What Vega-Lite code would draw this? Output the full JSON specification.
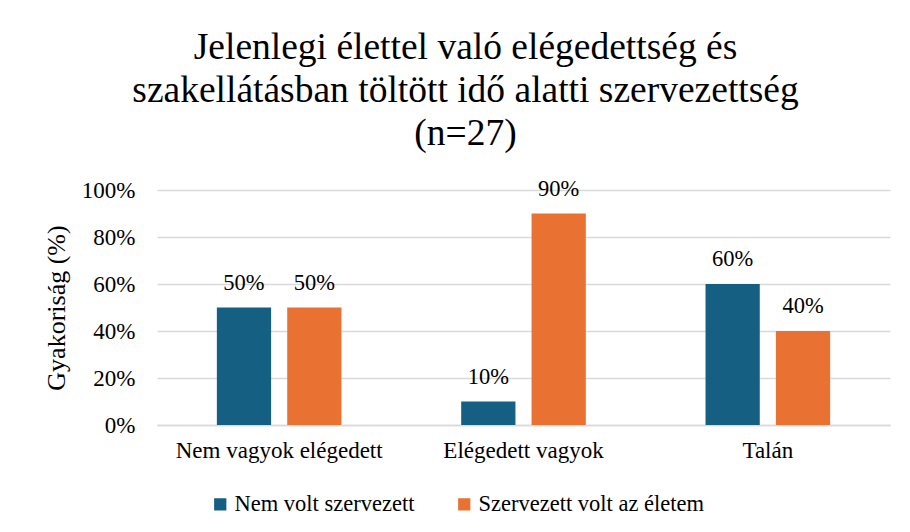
{
  "$schema": "https://vega.github.io/schema/vega-lite/v6.json",
  "autosize": {"type": "none"},
  "width": 733,
  "height": 235,
  "padding": {"left": 157, "top": 190, "right": 20, "bottom": 107},
  "background": "white",
  "config": {
    "font": "Times New Roman, Liberation Serif, serif",
    "view": {"stroke": null},
    "title": {"font": "Times New Roman, Liberation Serif, serif"}
  },
  "title": {
    "text": ["Jelenlegi élettel való elégedettség és", "szakellátásban töltött idő alatti szervezettség", "(n=27)"],
    "font": "Times New Roman, Liberation Serif, serif",
    "fontSize": 37.5,
    "fontWeight": "normal",
    "color": "#000000",
    "lineHeight": 43,
    "anchor": "middle",
    "dx": -58,
    "offset": 25
  },
  "data": {
    "values": [
      {"kat": "Nem vagyok elégedett", "sorozat": "Nem volt szervezett", "ertek": 0.5},
      {"kat": "Nem vagyok elégedett", "sorozat": "Szervezett volt az életem", "ertek": 0.5},
      {"kat": "Elégedett vagyok", "sorozat": "Nem volt szervezett", "ertek": 0.1},
      {"kat": "Elégedett vagyok", "sorozat": "Szervezett volt az életem", "ertek": 0.9},
      {"kat": "Talán", "sorozat": "Nem volt szervezett", "ertek": 0.6},
      {"kat": "Talán", "sorozat": "Szervezett volt az életem", "ertek": 0.4}
    ]
  },
  "encoding": {
    "x": {
      "field": "kat", "type": "nominal", "sort": null,
      "scale": {"paddingInner": 0.49, "paddingOuter": 0.245},
      "axis": {"title": null, "labelAngle": 0, "labelFontSize": 23, "labelColor": "#000000", "labelPadding": 14, "ticks": false, "domainColor": "#d9d9d9", "domainWidth": 1.5, "labelFont": "Times New Roman, Liberation Serif, serif", "labelLimit": 400}
    },
    "xOffset": {"field": "sorozat", "type": "nominal", "sort": null, "scale": {"paddingInner": 0.229, "paddingOuter": 0}},
    "y": {
      "field": "ertek", "type": "quantitative",
      "scale": {"domain": [0, 1]},
      "axis": {"title": "Gyakoriság (%)", "titleFontSize": 26, "titleFontWeight": "normal", "titleColor": "#000000", "titleFont": "Times New Roman, Liberation Serif, serif", "titlePadding": 12, "format": "%", "values": [0, 0.2, 0.4, 0.6, 0.8, 1], "labelOverlap": false, "labelFontSize": 23, "labelColor": "#000000", "labelPadding": 22, "ticks": false, "domain": false, "gridColor": "#d9d9d9", "gridWidth": 1.5, "labelFont": "Times New Roman, Liberation Serif, serif"}
    }
  },
  "layer": [
    {
      "mark": {"type": "bar"},
      "encoding": {
        "color": {
          "field": "sorozat", "type": "nominal", "sort": null,
          "scale": {"domain": ["Nem volt szervezett", "Szervezett volt az életem"], "range": ["#156082", "#E97132"]},
          "legend": {"title": null, "orient": "none", "legendX": 52, "legendY": 303, "direction": "horizontal", "symbolType": "square", "symbolSize": 150, "symbolStrokeWidth": 0, "labelFontSize": 22.5, "labelColor": "#000000", "labelFont": "Times New Roman, Liberation Serif, serif", "labelLimit": 500, "columnPadding": 38, "labelOffset": 3}
        }
      }
    },
    {
      "mark": {"type": "text", "baseline": "bottom", "dy": -13, "fontSize": 22.5, "color": "#000000", "font": "Times New Roman, Liberation Serif, serif"},
      "encoding": {
        "text": {"field": "ertek", "type": "quantitative", "format": ".0%"}
      }
    }
  ]
}
